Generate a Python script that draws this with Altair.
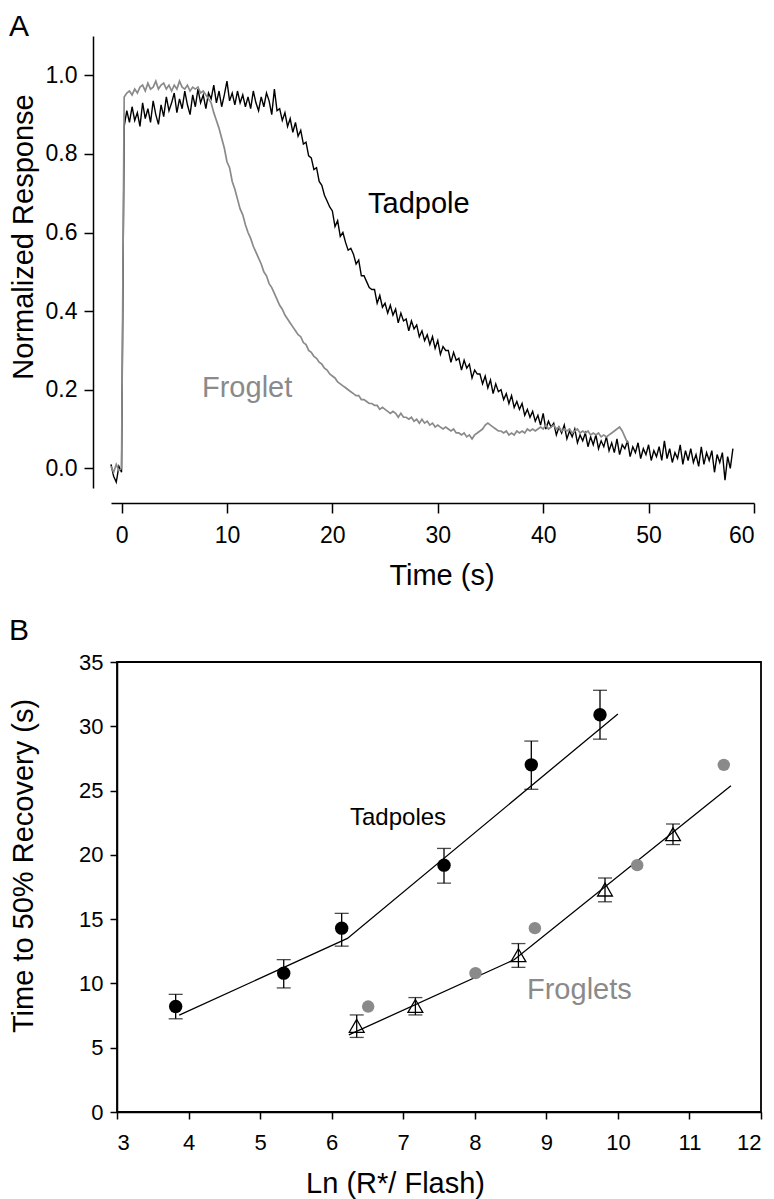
import altair as alt
import pandas as pd

FONT = "Liberation Sans"
GRAY = "#8a8a8a"

# ---------------- Panel A: normalized flash responses, sampled every 0.25 s from t = -1 s
SAMPLE_STEP = 0.25
TRACE_START = -1.0
tadpole_resp = [
    0.01, -0.02, -0.035, 0.005,      # -1
    -0.01, 0.87, 0.91, 0.88,         # 0
    0.92, 0.885, 0.905, 0.87,        # 1
    0.93, 0.89, 0.915, 0.88,         # 2
    0.935, 0.90, 0.875, 0.925,       # 3
    0.895, 0.945, 0.91, 0.93,        # 4
    0.955, 0.905, 0.94, 0.915,       # 5
    0.96, 0.925, 0.90, 0.95,         # 6
    0.92, 0.965, 0.93, 0.95,         # 7
    0.915, 0.955, 0.94, 0.975,       # 8
    0.93, 0.96, 0.92, 0.95,          # 9
    0.985, 0.935, 0.955, 0.925,      # 10
    0.96, 0.93, 0.95, 0.92,          # 11
    0.945, 0.915, 0.96, 0.93,        # 12
    0.91, 0.945, 0.92, 0.955,        # 13
    0.935, 0.90, 0.965, 0.91,        # 14
    0.915, 0.885, 0.905, 0.87,       # 15
    0.89, 0.855, 0.88, 0.845,        # 16
    0.86, 0.825, 0.83, 0.795,        # 17
    0.79, 0.76, 0.765, 0.73,         # 18
    0.72, 0.695, 0.68, 0.665,        # 19
    0.655, 0.615, 0.63, 0.59,        # 20
    0.60, 0.575, 0.555, 0.56,        # 21
    0.545, 0.52, 0.53, 0.49,         # 22
    0.49, 0.475, 0.46, 0.455,        # 23
    0.455, 0.42, 0.44, 0.41,         # 24
    0.42, 0.395, 0.415, 0.39,        # 25
    0.405, 0.37, 0.395, 0.375,       # 26
    0.38, 0.35, 0.375, 0.355,        # 27
    0.365, 0.335, 0.35, 0.325,       # 28
    0.34, 0.315, 0.335, 0.305,       # 29
    0.325, 0.29, 0.31, 0.30,         # 30
    0.30, 0.27, 0.295, 0.275,        # 31
    0.28, 0.25, 0.275, 0.255,        # 32
    0.265, 0.23, 0.25, 0.24,         # 33
    0.24, 0.215, 0.235, 0.205,       # 34
    0.225, 0.19, 0.215, 0.195,       # 35
    0.20, 0.175, 0.19, 0.165,        # 36
    0.185, 0.155, 0.17, 0.15,        # 37
    0.165, 0.135, 0.15, 0.13,        # 38
    0.145, 0.12, 0.135, 0.11,        # 39
    0.14, 0.10, 0.12, 0.105,         # 40
    0.115, 0.085, 0.105, 0.09,       # 41
    0.11, 0.075, 0.095, 0.08,        # 42
    0.10, 0.065, 0.085, 0.07,        # 43
    0.09, 0.055, 0.08, 0.06,         # 44
    0.085, 0.05, 0.07, 0.055,        # 45
    0.08, 0.045, 0.065, 0.04,        # 46
    0.075, 0.035, 0.06, 0.05,        # 47
    0.07, 0.03, 0.055, 0.04,         # 48
    0.065, 0.025, 0.05, 0.035,       # 49
    0.06, 0.02, 0.045, 0.03,         # 50
    0.055, 0.02, 0.07, 0.025,        # 51
    0.05, 0.015, 0.04, 0.025,        # 52
    0.06, 0.01, 0.045, 0.02,         # 53
    0.05, 0.015, 0.035, 0.005,       # 54
    0.055, 0.01, 0.04, 0.02,         # 55
    0.045, -0.01, 0.035, 0.015,      # 56
    0.04, -0.03, 0.03, 0.0,          # 57
    0.05,                            # 58
]
froglet_resp = [
    0.005, -0.01, 0.01, -0.005,      # -1
    0.0, 0.945, 0.955, 0.96,         # 0
    0.95, 0.965, 0.955, 0.97,        # 1
    0.975, 0.96, 0.98, 0.965,        # 2
    0.97, 0.985, 0.965, 0.975,       # 3
    0.98, 0.965, 0.975, 0.96,        # 4
    0.975, 0.965, 0.985, 0.97,       # 5
    0.965, 0.975, 0.96, 0.97,        # 6
    0.965, 0.97, 0.955, 0.96,        # 7
    0.95, 0.94, 0.93, 0.905,         # 8
    0.885, 0.865, 0.84, 0.815,       # 9
    0.78, 0.765, 0.73, 0.71,         # 10
    0.685, 0.66, 0.645, 0.62,        # 11
    0.60, 0.585, 0.565, 0.55,        # 12
    0.535, 0.52, 0.50, 0.49,         # 13
    0.47, 0.46, 0.445, 0.43,         # 14
    0.415, 0.405, 0.39, 0.38,        # 15
    0.37, 0.36, 0.35, 0.34,          # 16
    0.335, 0.32, 0.315, 0.30,        # 17
    0.295, 0.285, 0.28, 0.27,        # 18
    0.265, 0.255, 0.25, 0.24,        # 19
    0.235, 0.23, 0.22, 0.215,        # 20
    0.21, 0.205, 0.20, 0.195,        # 21
    0.19, 0.185, 0.185, 0.175,       # 22
    0.175, 0.17, 0.165, 0.165,       # 23
    0.16, 0.16, 0.15, 0.155,         # 24
    0.15, 0.145, 0.14, 0.145,        # 25
    0.14, 0.13, 0.14, 0.13,          # 26
    0.13, 0.125, 0.13, 0.12,         # 27
    0.125, 0.115, 0.125, 0.115,      # 28
    0.12, 0.11, 0.115, 0.105,        # 29
    0.11, 0.105, 0.10, 0.105,        # 30
    0.10, 0.095, 0.10, 0.09,         # 31
    0.09, 0.085, 0.09, 0.08,         # 32
    0.085, 0.075, 0.085, 0.09,       # 33
    0.095, 0.10, 0.11, 0.115,        # 34
    0.11, 0.105, 0.10, 0.095,        # 35
    0.095, 0.09, 0.095, 0.085,       # 36
    0.09, 0.085, 0.095, 0.09,        # 37
    0.095, 0.09, 0.10, 0.095,        # 38
    0.10, 0.095, 0.10, 0.105,        # 39
    0.10, 0.11, 0.10, 0.105,         # 40
    0.11, 0.10, 0.105, 0.095,        # 41
    0.10, 0.095, 0.10, 0.09,         # 42
    0.095, 0.10, 0.09, 0.095,        # 43
    0.09, 0.095, 0.085, 0.09,        # 44
    0.085, 0.09, 0.08, 0.085,        # 45
    0.08, 0.085, 0.09, 0.095,        # 46
    0.10, 0.105, 0.095, 0.08,        # 47
    0.065,                           # 48
]
time_ticks = [0, 10, 20, 30, 40, 50, 60]
resp_ticks = [0.0, 0.2, 0.4, 0.6, 0.8, 1.0]

# ---------------- Panel B: time to 50 % recovery vs ln(R*/flash)
tad_x = [3.82, 5.33, 6.14, 7.57, 8.79, 9.75]
tad_y = [8.2, 10.8, 14.3, 19.2, 27.0, 30.9]
tad_lo = [7.25, 9.65, 12.9, 17.8, 25.1, 29.0]
tad_hi = [9.15, 11.85, 15.45, 20.5, 28.85, 32.8]
tad_fit_x = [3.87, 6.22, 10.0]
tad_fit_y = [7.53, 13.5, 30.96]

frog_x = [6.35, 7.17, 8.61, 9.82, 10.77]
frog_y = [6.7, 8.25, 12.2, 17.3, 21.6]
frog_lo = [5.8, 7.55, 11.25, 16.35, 20.8]
frog_hi = [7.55, 8.9, 13.1, 18.2, 22.4]
frog_fit_x = [6.24, 8.55, 11.58]
frog_fit_y = [6.0, 11.84, 25.38]

gray_x = [6.51, 8.01, 8.84, 10.27, 11.48]
gray_y = [8.2, 10.8, 14.3, 19.2, 27.0]

lnr_ticks = [3, 4, 5, 6, 7, 8, 9, 10, 11, 12]
rec_ticks = [0, 5, 10, 15, 20, 25, 30, 35]

# ---------------- data frames
tad_df = pd.DataFrame({"t": [TRACE_START + SAMPLE_STEP * i for i in range(len(tadpole_resp))],
                       "v": tadpole_resp})
frog_df = pd.DataFrame({"t": [TRACE_START + SAMPLE_STEP * i for i in range(len(froglet_resp))],
                        "v": froglet_resp})
tad_pts = pd.DataFrame({"x": tad_x, "y": tad_y, "lo": tad_lo, "hi": tad_hi})
frog_pts = pd.DataFrame({"x": frog_x, "y": frog_y, "lo": frog_lo, "hi": frog_hi})
gray_pts = pd.DataFrame({"x": gray_x, "y": gray_y})
tad_fit = pd.DataFrame({"x": tad_fit_x, "y": tad_fit_y})
frog_fit = pd.DataFrame({"x": frog_fit_x, "y": frog_fit_y})


def label(text, x, y, size, color="black", align="left", baseline="alphabetic", angle=0):
    return alt.Chart(pd.DataFrame({"label": [text]})).mark_text(
        align=align, baseline=baseline, font=FONT, fontSize=size, color=color, angle=angle
    ).encode(x=alt.value(x), y=alt.value(y), text="label:N")


# ---------------- Panel A
xA = alt.X("t:Q",
           scale=alt.Scale(domain=[-1, 60], range=[-6, 637], nice=False, zero=False),
           axis=alt.Axis(values=time_ticks, offset=15, tickSize=10, labelPadding=11,
                         labelFontSize=23, title=None))
yA = alt.Y("v:Q",
           scale=alt.Scale(domain=[-0.05, 1.1], nice=False, zero=False),
           axis=alt.Axis(values=resp_ticks, format=".1f", offset=24, tickSize=9,
                         labelPadding=7, labelFontSize=23, title=None))

tad_line = alt.Chart(tad_df).mark_line(color="black", strokeWidth=1.4).encode(x=xA, y=yA)
frog_line = alt.Chart(frog_df).mark_line(color=GRAY, strokeWidth=1.7).encode(x=xA, y=yA)

panelA = alt.layer(
    tad_line,
    frog_line,
    label("A", -108, -24, 30, baseline="top"),
    label("Normalized Response", -93, 201, 29, align="center", baseline="middle", angle=270),
    label("Tadpole", 251, 177, 29),
    label("Froglet", 85, 361, 29, color=GRAY),
    label("Time (s)", 325, 549, 29, align="center"),
).properties(width=644, height=452)

# ---------------- Panel B
def xB(field="x"):
    return alt.X(f"{field}:Q", scale=alt.Scale(domain=[3, 12], nice=False, zero=False),
                 axis=alt.Axis(values=lnr_ticks, tickSize=7, labelPadding=13,
                               labelFontSize=22, title=None))


def yB(field="y"):
    return alt.Y(f"{field}:Q", scale=alt.Scale(domain=[0, 35], nice=False, zero=False),
                 axis=alt.Axis(values=rec_ticks, tickSize=7, labelPadding=7,
                               labelFontSize=22, title=None))


tad_fit_line = alt.Chart(tad_fit).mark_line(color="black", strokeWidth=1.3).encode(x=xB(), y=yB())
frog_fit_line = alt.Chart(frog_fit).mark_line(color="black", strokeWidth=1.3).encode(x=xB(), y=yB())

tad_err = alt.Chart(tad_pts).mark_rule(color="black", strokeWidth=1.3).encode(
    x=xB(), y=yB("lo"), y2="hi:Q")
tad_cap_lo = alt.Chart(tad_pts).mark_tick(color="black", orient="horizontal", size=14, thickness=1.3).encode(
    x=xB(), y=yB("lo"))
tad_cap_hi = alt.Chart(tad_pts).mark_tick(color="black", orient="horizontal", size=14, thickness=1.3).encode(
    x=xB(), y=yB("hi"))
tad_dots = alt.Chart(tad_pts).mark_point(shape="circle", filled=True, color="black", size=180, opacity=1).encode(
    x=xB(), y=yB())

frog_err = alt.Chart(frog_pts).mark_rule(color="black", strokeWidth=1.3).encode(
    x=xB(), y=yB("lo"), y2="hi:Q")
frog_cap_lo = alt.Chart(frog_pts).mark_tick(color="black", orient="horizontal", size=14, thickness=1.3).encode(
    x=xB(), y=yB("lo"))
frog_cap_hi = alt.Chart(frog_pts).mark_tick(color="black", orient="horizontal", size=14, thickness=1.3).encode(
    x=xB(), y=yB("hi"))
frog_tri = alt.Chart(frog_pts).mark_point(shape="triangle-up", filled=False, color="black",
                                          strokeWidth=1.3, size=220, opacity=1).encode(x=xB(), y=yB())

gray_dots = alt.Chart(gray_pts).mark_point(shape="circle", filled=True, color=GRAY, size=155, opacity=1).encode(
    x=xB(), y=yB())

panelB = alt.layer(
    tad_fit_line, frog_fit_line,
    tad_err, tad_cap_lo, tad_cap_hi, tad_dots,
    frog_err, frog_cap_lo, frog_cap_hi, frog_tri,
    gray_dots,
    label("B", -108, -46, 30, baseline="top"),
    label("Time to 50% Recovery (s)", -93, 204, 29, align="center", baseline="middle", angle=270),
    label("Tadpoles", 233, 162.6, 24),
    label("Froglets", 410, 337.3, 29, color=GRAY),
    label("Ln (R*/ Flash)", 368, 531, 29, align="right"),
).properties(width=644, height=450,
             view=alt.ViewBackground(stroke="black", strokeWidth=1.8))

chart = alt.vconcat(panelA, panelB, spacing=24).properties(
    padding={"top": 4, "left": 0, "right": 0, "bottom": 0}
).configure_view(
    stroke=None
).configure_axis(
    domainColor="black", tickColor="black", labelColor="black", labelFont=FONT,
    domainWidth=1.5, tickWidth=1.5, grid=False
)

chart.save("out.html", embed_options={"renderer": "svg", "actions": False})
